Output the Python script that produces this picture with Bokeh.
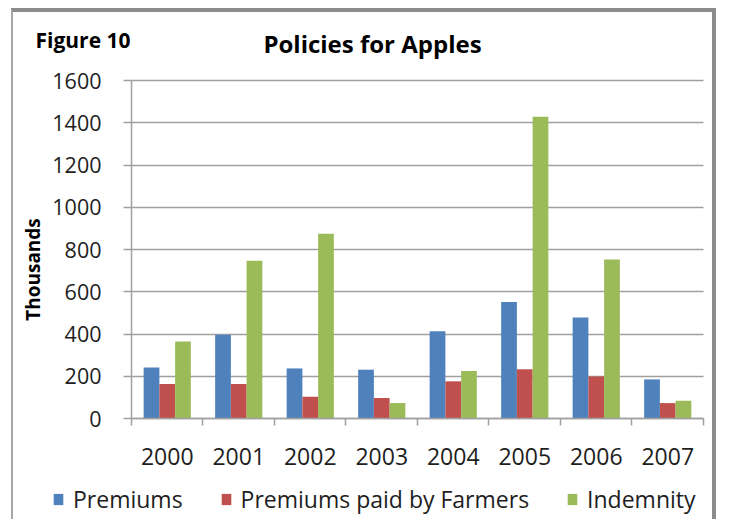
import math
from bokeh.plotting import figure
from bokeh.models import (ColumnDataSource, Range1d, FixedTicker, Legend, LegendItem, Label)
from bokeh.transform import dodge
from bokeh.embed import file_html
from bokeh.resources import INLINE

years = ["2000", "2001", "2002", "2003", "2004", "2005", "2006", "2007"]
premiums = [242, 397, 237, 231, 413, 552, 478, 185]
premiums_farmers = [163, 163, 103, 97, 176, 233, 199, 73]
indemnity = [365, 747, 875, 73, 225, 1429, 753, 84]
y_ticks = [0, 200, 400, 600, 800, 1000, 1200, 1400, 1600]

FONT = "Open Sans"
GRID = "#a0a0a0"
TXT = "#1e1e1e"

n = len(years)
pos = [i + 0.5 for i in range(n)]
src = ColumnDataSource(dict(x=pos, prem=premiums, farm=premiums_farmers, ind=indemnity))

W, H = 705, 511
# frame covers the whole canvas; axes are pinned at 0 so nothing is clipped
p = figure(width=W, height=H, output_backend="svg", toolbar_location=None,
           x_range=Range1d(-1.6503, 8.2098), y_range=Range1d(-497.0, 1921.9),
           min_border=0, min_border_left=0, min_border_right=0,
           min_border_top=0, min_border_bottom=0)
p.styles = {"margin-top": "8px", "margin-left": "11px",
            "border-top": "4px solid #8c8c8c", "border-right": "4px solid #8c8c8c",
            "border-left": "2px solid #a6a6a6"}
p.outline_line_color = None
p.background_fill_color = "white"
p.border_fill_color = "white"

bw = 0.22
r1 = p.vbar(x=dodge("x", -bw, range=p.x_range), top="prem", width=bw, source=src,
            fill_color="#4F81BD", line_color=None)
r2 = p.vbar(x=dodge("x", 0, range=p.x_range), top="farm", width=bw, source=src,
            fill_color="#C0504D", line_color=None)
r3 = p.vbar(x=dodge("x", bw, range=p.x_range), top="ind", width=bw, source=src,
            fill_color="#9BBB59", line_color=None)

# grid
p.xgrid.visible = False
p.ygrid.ticker = FixedTicker(ticks=y_ticks)
p.ygrid.bounds = (0, 1600)
p.ygrid.cross_bounds = (0, n)
p.ygrid.grid_line_color = GRID
p.ygrid.grid_line_width = 1.5
p.ygrid.level = "underlay"

# x axis
xa = p.xaxis[0]
xa.fixed_location = 0
xa.bounds = (0, n)
xa.ticker = FixedTicker(ticks=pos, minor_ticks=list(range(n + 1)))
xa.major_label_overrides = {pos[i]: years[i] for i in range(n)}
xa.major_tick_line_color = None
xa.major_tick_out = 0
xa.major_tick_in = 0
xa.minor_tick_line_color = GRID
xa.minor_tick_line_width = 1.5
xa.minor_tick_out = 7
xa.minor_tick_in = 0
xa.axis_line_color = GRID
xa.axis_line_width = 1.5
xa.major_label_text_font = FONT
xa.major_label_text_font_size = "23px"
xa.major_label_text_color = TXT
xa.major_label_standoff = 22

# y axis
ya = p.yaxis[0]
ya.fixed_location = 0
ya.bounds = (0, 1600)
ya.ticker = FixedTicker(ticks=y_ticks)
ya.minor_tick_line_color = None
ya.major_tick_line_color = GRID
ya.major_tick_line_width = 1.5
ya.major_tick_out = 8
ya.major_tick_in = 0
ya.axis_line_color = GRID
ya.axis_line_width = 1.5
ya.major_label_text_font = FONT
ya.major_label_text_font_size = "21.5px"
ya.major_label_text_color = TXT
ya.major_label_standoff = 22

# y axis title, placed a little below the axis middle as in the reference
p.add_layout(Label(x=17, y=253, x_units="canvas", y_units="canvas", text="Thousands",
                   angle=math.pi / 2, text_font=FONT, text_font_size="19px",
                   text_font_style="bold", text_color="black",
                   text_baseline="middle", text_align="center"))

# titles
p.add_layout(Label(x=20, y=23, x_units="canvas", y_units="canvas", text="Figure 10",
                   text_font=FONT, text_font_size="21px", text_font_style="bold",
                   text_color="black", text_baseline="middle", text_align="left"))
p.add_layout(Label(x=357, y=27, x_units="canvas", y_units="canvas", text="Policies for Apples",
                   text_font=FONT, text_font_size="24px", text_font_style="bold",
                   text_color="black", text_baseline="middle", text_align="center"))

legend = Legend(items=[LegendItem(label="Premiums", renderers=[r1]),
                       LegendItem(label="Premiums paid by Farmers", renderers=[r2]),
                       LegendItem(label="Indemnity", renderers=[r3])],
                orientation="horizontal", location=(39, 8),
                glyph_width=12, glyph_height=14, label_standoff=9, spacing=37,
                padding=0, margin=0, border_line_color=None, background_fill_alpha=0,
                label_text_font=FONT, label_text_font_size="23px", label_text_color=TXT)
p.add_layout(legend, "center")

open("out.html", "w").write(file_html(p, INLINE))
